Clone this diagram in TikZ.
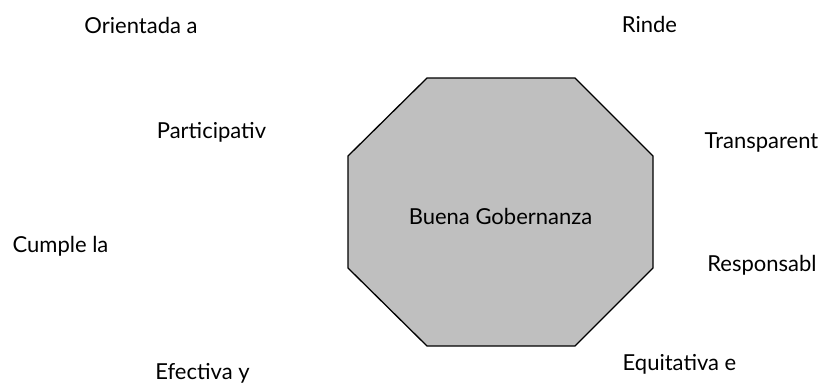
\documentclass[tikz,border=0pt]{standalone}
\usepackage{fontspec}
\setmainfont{Lato}
\usetikzlibrary{positioning}
\tikzset{%
  label text/.style={anchor=base, inner sep=0pt, font=\fontsize{22}{26}\selectfont},
  core/.style={draw=black, line width=1.3pt, fill=gray!50!white, line join=miter}
}
\begin{document}
\begin{tikzpicture}[x=1pt, y=-1pt]

          \useasboundingbox (0,0) rectangle (823,384);

          % central octagon
          \draw[core] (427,78) -- (575,78) -- (653,156) -- (653,268)
            -- (575,346) -- (427,346) -- (348,268) -- (348,156) -- cycle;
          \node[label text] (gobernanza) at (500.5,224) {Buena Gobernanza};

          % labels around it
          \node[label text] (orientada) at (141,33) {Orientada a};
          \node[label text] (rinde) at (649.5,32) {Rinde};
          \node[label text] (participativ) at (211.5,138) {Participativ};
          \node[label text] (transparent) at (761.5,148) {Transparent};
          \node[label text] (cumple) at (60.5,252) {Cumple la};
          \node[label text] (responsabl) at (762,271) {Responsabl};
          \node[label text] (equitativa) at (679.5,370) {Equitativa e};
          \node[label text] (efectiva) at (202.5,379) {Efectiva y};
        \end{tikzpicture}
\end{document}
